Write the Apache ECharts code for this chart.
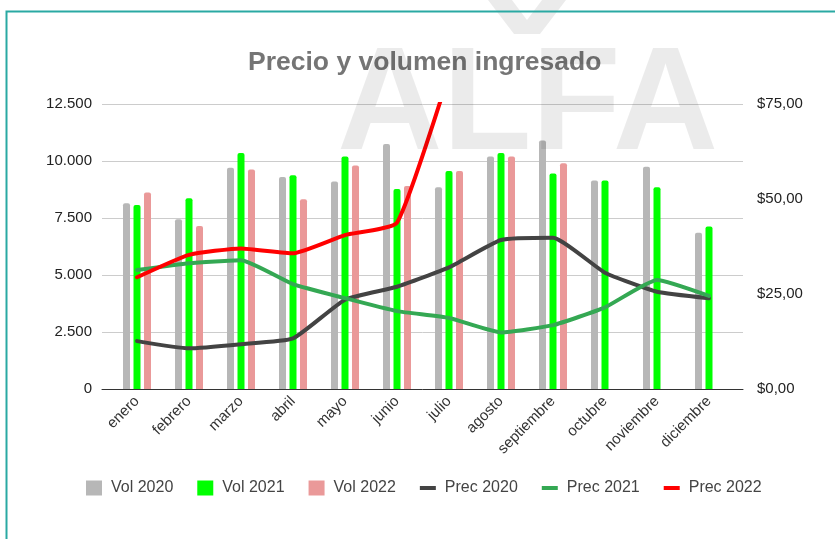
<!DOCTYPE html>
<html>
<head>
<meta charset="utf-8">
<script src="https://cdn.jsdelivr.net/npm/echarts@6/dist/echarts.min.js"></script>
<style>
  html, body { margin: 0; padding: 0; background: #fff; }
  #chart { width: 835px; height: 539px; }
</style>
</head>
<body>
<div id="chart"></div>
<script type="text/javascript">
  // datos
  var meses = ['enero', 'febrero', 'marzo', 'abril', 'mayo', 'junio', 'julio', 'agosto', 'septiembre', 'octubre', 'noviembre', 'diciembre'];
  var vol2020 = [8150, 7450, 9700, 9300, 9100, 10750, 8850, 10200, 10900, 9150, 9750, 6850];
  var vol2021 = [8070, 8370, 10350, 9370, 10200, 8770, 9560, 10350, 9450, 9150, 8850, 7130];
  var vol2022 = [8620, 7150, 9630, 8320, 9800, 8900, 9560, 10200, 9900, null, null, null];
  var prec2020 = [12.6, 10.7, 11.8, 13.3, 23.5, 26.9, 32.0, 39.2, 39.8, 30.6, 25.6, 23.9];
  var prec2021 = [31.3, 33.1, 33.9, 27.6, 23.9, 20.5, 18.7, 14.9, 16.8, 21.5, 28.7, 24.5];
  var prec2022 = [29.4, 35.3, 37.0, 35.7, 40.5, 43.8, 83.0, null, null, null, null, null];
  var volTicks = [0, 2500, 5000, 7500, 10000, 12500];
  var precTicks = [0, 25, 50, 75];

  var FONT = '"Liberation Sans", Arial, sans-serif';
  var lineIcon = 'path://M0,0 H16 V4 H0 Z';

  function fmtVol(v) {
    if (v < 1000) return String(v);
    var m = Math.floor(v / 1000), r = String(v % 1000);
    while (r.length < 3) r = '0' + r;
    return m + '.' + r;
  }
  function fmtPrec(v) {
    return '$' + v.toFixed(2).replace('.', ',');
  }

  var myChart = echarts.init(document.getElementById('chart'));

  var barStyle = function (c) {
    return { color: c, borderRadius: [2, 2, 0, 0] };
  };

  option = {
    backgroundColor: '#fff',
    animation: false,
    title: {
      text: 'Precio y volumen ingresado',
      left: 248,
      top: 49,
      padding: 0,
      textStyle: { fontFamily: FONT, fontSize: 26.5, fontWeight: 'bold', color: '#757575' }
    },
    legend: {
      left: 86,
      top: 480,
      padding: 0,
      itemWidth: 16,
      itemHeight: 15,
      itemGap: 24,
      textStyle: { fontFamily: FONT, fontSize: 16, color: '#444', padding: [0, 0, 0, 4] },
      data: [
        { name: 'Vol 2020', icon: 'rect' },
        { name: 'Vol 2021', icon: 'rect' },
        { name: 'Vol 2022', icon: 'rect' },
        { name: 'Prec 2020', icon: lineIcon },
        { name: 'Prec 2021', icon: lineIcon },
        { name: 'Prec 2022', icon: lineIcon }
      ]
    },
    grid: [
      // marco: lineas de cuadricula y ejes
      { left: 102, right: 92, top: 104, bottom: 150 },
      // datos
      { left: 111, right: 100, top: 104, bottom: 150 }
    ],
    xAxis: [
      {
        type: 'category', gridIndex: 0, data: meses,
        axisLine: { show: true, lineStyle: { color: '#333', width: 1 } },
        axisTick: { show: false },
        axisLabel: { show: false }
      },
      {
        type: 'category', gridIndex: 1, data: meses,
        axisLine: { show: false },
        axisTick: { show: false },
        axisLabel: { rotate: 45, margin: 10, fontFamily: FONT, fontSize: 15, color: '#333' }
      }
    ],
    yAxis: [
      {
        type: 'value', gridIndex: 0, position: 'left',
        min: volTicks[0], max: volTicks[volTicks.length - 1], interval: 2500,
        axisLine: { show: false }, axisTick: { show: false },
        axisLabel: { margin: 10, fontFamily: FONT, fontSize: 15, color: '#222', formatter: fmtVol },
        splitLine: { lineStyle: { color: '#cccccc', width: 1 } }
      },
      {
        type: 'value', gridIndex: 0, position: 'right',
        min: precTicks[0], max: precTicks[precTicks.length - 1], interval: 25,
        axisLine: { show: false }, axisTick: { show: false },
        axisLabel: { margin: 14, fontFamily: FONT, fontSize: 15, color: '#222', formatter: fmtPrec },
        splitLine: { show: false }
      },
      {
        type: 'value', gridIndex: 1, position: 'left',
        min: volTicks[0], max: volTicks[volTicks.length - 1],
        show: false
      },
      {
        type: 'value', gridIndex: 1, position: 'right',
        min: precTicks[0], max: precTicks[precTicks.length - 1],
        show: false
      }
    ],
    series: [
      {
        name: 'Vol 2020', type: 'bar', xAxisIndex: 1, yAxisIndex: 2,
        barWidth: 7, barGap: '50%', itemStyle: barStyle('#b7b7b7'), data: vol2020
      },
      {
        name: 'Vol 2021', type: 'bar', xAxisIndex: 1, yAxisIndex: 2,
        barWidth: 7, barGap: '50%', itemStyle: barStyle('#00ff00'), data: vol2021
      },
      {
        name: 'Vol 2022', type: 'bar', xAxisIndex: 1, yAxisIndex: 2,
        barWidth: 7, barGap: '50%', itemStyle: barStyle('#ea9999'), data: vol2022
      },
      {
        name: 'Prec 2020', type: 'line', xAxisIndex: 1, yAxisIndex: 3,
        symbol: 'none', smooth: 0.15, z: 5,
        lineStyle: { color: '#434343', width: 4, cap: 'round' },
        itemStyle: { color: '#434343' }, data: prec2020
      },
      {
        name: 'Prec 2021', type: 'line', xAxisIndex: 1, yAxisIndex: 3,
        symbol: 'none', smooth: 0.15, z: 5,
        lineStyle: { color: '#34a853', width: 4, cap: 'round' },
        itemStyle: { color: '#34a853' }, data: prec2021
      },
      {
        name: 'Prec 2022', type: 'line', xAxisIndex: 1, yAxisIndex: 3,
        symbol: 'none', smooth: 0.15, z: 5,
        lineStyle: { color: '#ff0000', width: 4, cap: 'round' },
        itemStyle: { color: '#ff0000' }, data: prec2022
      }
    ],
    graphic: [
      {
        type: 'rect', left: 4, top: 9, z: 100, silent: true,
        shape: { width: 900, height: 600 },
        style: { fill: 'none', stroke: '#2aa9a3', lineWidth: 2 }
      },
      // marca de agua
      {
        type: 'text', x: 337, y: 36, z: 90, silent: true, scaleX: 1.0,
        style: { text: 'ALFA', font: 'bold 146px "Liberation Sans", sans-serif', fill: 'rgba(0,0,0,0.08)' }
      },
      {
        type: 'polygon', z: 90, silent: true,
        shape: { points: [[488, 0], [512, 0], [527, 20], [542, 0], [566, 0], [540, 34], [514, 34]] },
        style: { fill: 'rgba(0,0,0,0.08)' }
      }
    ]
  };
  myChart.setOption(option);
</script>
</body>
</html>
